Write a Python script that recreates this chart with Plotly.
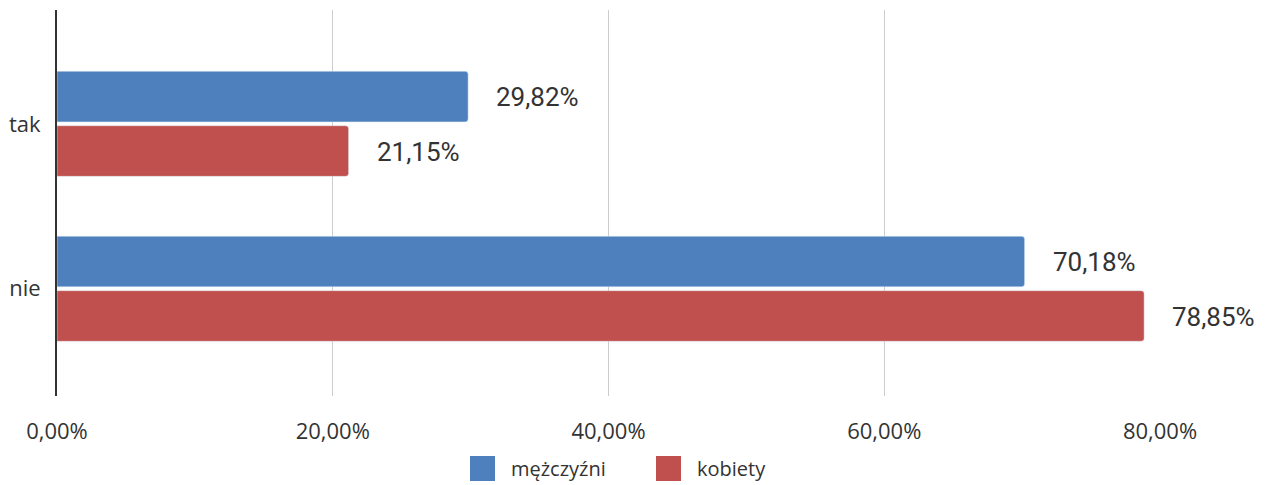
import plotly.graph_objects as go

categories = ["tak", "nie"]
men = [0.2982, 0.7018]
women = [0.2115, 0.7885]
men_labels = ["29,82%", "70,18%"]
women_labels = ["21,15%", "78,85%"]
series_names = ["mężczyźni", "kobiety"]
tick_vals = [0, 0.2, 0.4, 0.6, 0.8]
tick_text = ["0,00%", "20,00%", "40,00%", "60,00%", "80,00%"]

BLUE = "#4e80bd"
RED = "#c0504d"

# page has an 8px body margin; work in page pixels and convert
O = 8
W, H = 1268 - 2 * O, 485 - O
ml = 57 - O
mt = 10 - O
mr = W - (1160 - O)
mb = H - (396 - O)
pw, ph = W - ml - mr, H - mt - mb

fig = go.Figure()
fig.add_trace(go.Bar(y=categories, x=men, orientation="h", name=series_names[0],
                     marker=dict(color=BLUE, cornerradius=3), showlegend=False))
fig.add_trace(go.Bar(y=categories, x=women, orientation="h", name=series_names[1],
                     marker=dict(color=RED, cornerradius=3), showlegend=False))

lab_font = dict(family="Roboto", size=26, color="#333333")
anns = []
for cat, v, t in zip(categories, men, men_labels):
    anns.append(dict(x=v, y=cat, text=t, xanchor="left", yanchor="middle", xshift=26, yshift=27,
                     showarrow=False, font=lab_font))
for cat, v, t in zip(categories, women, women_labels):
    anns.append(dict(x=v, y=cat, text=t, xanchor="left", yanchor="middle", xshift=26, yshift=-28,
                     showarrow=False, font=lab_font))

def px2x(px):
    return (px - O - ml) / pw
def py2y(py):
    return (H - mb - (py - O)) / ph

shapes = []
legend_items = [(470, series_names[0], BLUE), (656, series_names[1], RED)]
for x0, name, col in legend_items:
    shapes.append(dict(type="rect", xref="paper", yref="paper",
                       x0=px2x(x0), x1=px2x(x0 + 25), y0=py2y(481), y1=py2y(456),
                       fillcolor=col, line=dict(width=0)))
    anns.append(dict(xref="paper", yref="paper", x=px2x(x0 + 39), y=py2y(468), text=name,
                     xanchor="left", yanchor="middle", showarrow=False,
                     font=dict(family="Open Sans", size=20, color="#333333")))

fig.update_layout(
    width=W, height=H,
    margin=dict(l=ml, r=mr, t=mt, b=mb),
    barmode="group", bargap=0.34, bargroupgap=0.07,
    plot_bgcolor="white", paper_bgcolor="white",
    showlegend=False,
    annotations=anns, shapes=shapes,
    xaxis=dict(range=[0, 0.8], tickvals=tick_vals, ticktext=tick_text,
               showgrid=True, gridcolor="#cccccc", gridwidth=1, zeroline=False,
               tickfont=dict(family="Open Sans", size=22, color="#333333"),
               ticks="", ticklabelstandoff=20),
    yaxis=dict(range=[1.65, -0.69], showline=True, linecolor="#333333", linewidth=2,
               ticks="", tickfont=dict(family="Open Sans", size=22, color="#333333"),
               ticklabelstandoff=10),
)
fig.write_html("out.html")
